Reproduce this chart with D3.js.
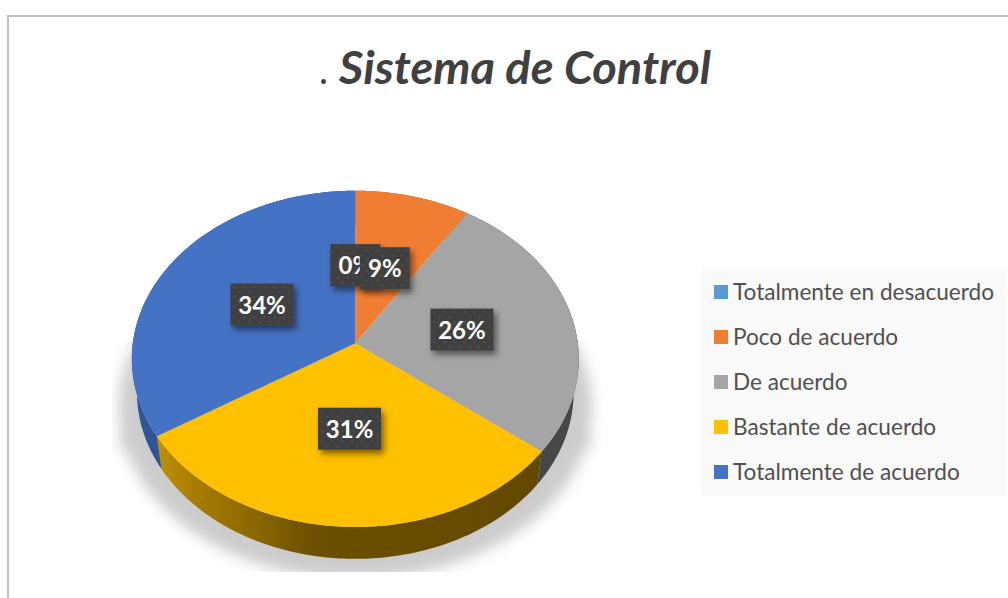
<!DOCTYPE html>
<html>
<head>
<meta charset="utf-8">
<script src="https://cdnjs.cloudflare.com/ajax/libs/d3/7.8.5/d3.min.js"></script>
<style>
html,body{margin:0;padding:0;background:#fff;overflow:hidden}
svg{display:block}
text{font-family:Lato,"Open Sans",sans-serif}
</style>
</head>
<body>
<svg id="chart" width="1008" height="598"></svg>
<script>
const categories = ["Totalmente en desacuerdo","Poco de acuerdo","De acuerdo","Bastante de acuerdo","Totalmente de acuerdo"];
const values = [0, 9.1, 26.4, 30.6, 33.9];
const colors = ["#5B9BD5","#F07E32","#A5A5A5","#FFC000","#4472C4"];
const legendColors = ["#5B9BD5","#ED7D31","#A5A5A5","#FFC000","#4472C4"];
const sideColors = ["#3F75A5","#B35A1F","#474747","url(#rimGold)","#2F5597"];
const titleText = "Sistema de Control";

const W = 1008, H = 598;
const cx = 355.3, cy = 343.3, R = 222.5, S = 166.7, persp = -0.0925;
const depthCy = 377, depthSx = 0.977, depthSy = 0.99;
const labelR = 0.49;

const svg = d3.select("#chart");
const defs = svg.append("defs");

function project(a, r, bottom) {
  const u = Math.sin(a) * r, v = -Math.cos(a) * r, w = 1 + persp * v;
  const x = R * u / w, y = S * v / w;
  return bottom ? [cx + x * depthSx, depthCy + y * depthSy] : [cx + x, cy + y];
}
const line = d3.line();
const samples = (a, b, n) => d3.range(n + 1).map(i => a + (b - a) * i / n);

// ---- defs ----
defs.append("filter").attr("id","blur").attr("x","-20%").attr("y","-20%").attr("width","140%").attr("height","140%")
  .append("feGaussianBlur").attr("stdDeviation",7);
const ds = defs.append("filter").attr("id","labelShadow").attr("x","-30%").attr("y","-30%").attr("width","170%").attr("height","170%");
ds.append("feDropShadow").attr("dx",3).attr("dy",4).attr("stdDeviation",3).attr("flood-color","#000").attr("flood-opacity",0.5);

defs.append("clipPath").attr("id","shadowClip").append("rect")
  .attr("x",112).attr("y",340).attr("width",490).attr("height",232);

const gold = defs.append("linearGradient").attr("id","rimGold")
  .attr("gradientUnits","userSpaceOnUse").attr("x1",160).attr("x2",540).attr("y1",0).attr("y2",0);
[[0,"#BD8D00"],[0.1,"#A67C00"],[0.25,"#8A6700"],[0.4,"#6C5000"],[1,"#634900"]].forEach(s =>
  gold.append("stop").attr("offset",s[0]).attr("stop-color",s[1]));

const wall = defs.append("linearGradient").attr("id","wallFade")
  .attr("gradientUnits","userSpaceOnUse").attr("x1",0).attr("x2",0).attr("y1",cy).attr("y2",cy + 90);
[[0,"#f2f2f2"],[1,"#cccccc"]].forEach(s =>
  wall.append("stop").attr("offset",s[0]).attr("stop-color",s[1]));

const pat = defs.append("pattern").attr("id","dots").attr("patternUnits","userSpaceOnUse")
  .attr("width",10).attr("height",10);
pat.append("rect").attr("width",10).attr("height",10).attr("fill","#404040");
[[2.5,2.5],[7.5,7.5]].forEach(p =>
  pat.append("circle").attr("cx",p[0]).attr("cy",p[1]).attr("r",1).attr("fill","#555555"));

// ---- frame ----
svg.append("path").attr("d",`M8,${H}V16H${W}`).attr("fill","none").attr("stroke","#BFBFBF").attr("stroke-width",2);

// ---- title ----
const title = svg.append("text").attr("x",319).attr("y",84).attr("fill","#404040");
title.append("tspan").attr("font-size",38).text(".");
title.append("tspan").attr("x",339).attr("font-size",46).attr("font-weight",700).attr("font-style","italic")
  .attr("textLength",372).attr("lengthAdjust","spacingAndGlyphs").text(titleText);

// ---- cast shadow ----
const shadowClip = svg.append("g").attr("clip-path","url(#shadowClip)");
const shadow = shadowClip.append("g").attr("filter","url(#blur)");
const wallPts = [[cx - R + 2, cy], [cx - R - 14, cy + 105], [cx + R + 14, cy + 105], [cx + R - 2, cy]];
shadow.append("path").attr("d", line(wallPts) + "Z").attr("fill","url(#wallFade)");
shadow.append("ellipse").attr("cx",cx).attr("cy",depthCy + 30).attr("rx",R + 14).attr("ry",S + 5)
  .attr("fill","#cccccc");

// ---- pie ----
const arcs = d3.pie().sort(null).value(d => d)(values);
const pieG = svg.append("g");

pieG.selectAll("path.side").data(arcs).join("path").attr("class","side")
  .attr("d", d => {
    const pts = samples(d.startAngle, d.endAngle, 120);
    return line(pts.map(a => project(a, 1, false)).concat(pts.slice().reverse().map(a => project(a, 1, true)))) + "Z";
  })
  .attr("fill", (d, i) => sideColors[i]);

pieG.selectAll("path.top").data(arcs).join("path").attr("class","top")
  .attr("d", d => line([[cx, cy]].concat(samples(d.startAngle, d.endAngle, 120).map(a => project(a, 1, false)))) + "Z")
  .attr("fill", (d, i) => colors[i]);

// ---- data labels ----
const labelG = svg.append("g");
arcs.forEach((d, i) => {
  const c = project((d.startAngle + d.endAngle) / 2, labelR, false);
  const txt = d3.format(".0f")(d.value) + "%";
  const g = labelG.append("g").attr("transform", `translate(${c[0]},${c[1]})`);
  const w = txt.length === 2 ? 50 : 63, h = 42;
  g.append("rect").attr("x", -w / 2).attr("y", -h / 2).attr("width", w).attr("height", h)
    .attr("fill","url(#dots)").attr("filter","url(#labelShadow)");
  g.append("text").attr("text-anchor","middle").attr("y",9).attr("font-size",24).attr("font-weight",700)
    .attr("fill","#fff").text(txt);
});

// ---- legend ----
const legendY = d3.scalePoint().domain(categories).range([292, 472]);
const legend = svg.append("g");
legend.append("rect").attr("x",701).attr("y",269).attr("width",305).attr("height",226).attr("fill","#F9F9F9");
const items = legend.selectAll("g.item").data(categories).join("g").attr("class","item")
  .attr("transform", d => `translate(714,${legendY(d)})`);
items.append("rect").attr("y",-7).attr("width",14).attr("height",14).attr("fill",(d,i)=>legendColors[i]);
items.append("text").attr("x",19).attr("y",7.5).attr("font-size",22.6).attr("fill","#505050").text(d => d);
</script>
</body>
</html>
